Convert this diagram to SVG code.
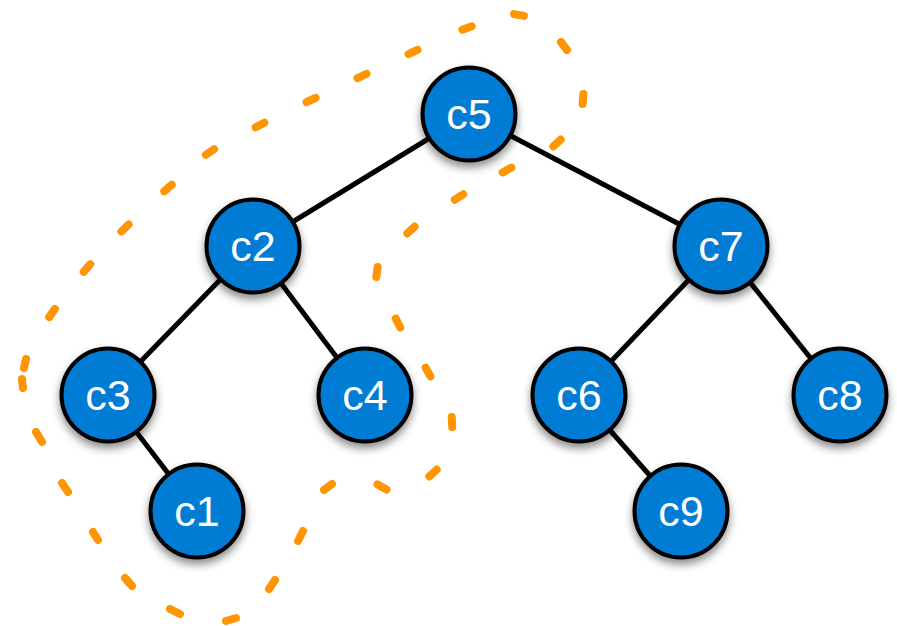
<svg xmlns="http://www.w3.org/2000/svg" width="897" height="626" viewBox="0 0 897 626">
  <defs>
    <filter id="shadow" x="-30%" y="-30%" width="160%" height="170%">
      <feDropShadow dx="0" dy="5" stdDeviation="4" flood-color="#000" flood-opacity="0.45"/>
    </filter>
    <style>
      .edge { stroke: #000; stroke-width: 5; fill: none; }
      .node circle { fill: #027BD5; stroke: #000; stroke-width: 4; filter: url(#shadow); }
      .node text { fill: #fff; font-family: "Liberation Sans", Arial, sans-serif; font-size: 43px; text-anchor: middle; }
      .hull { stroke: #FF9500; stroke-width: 8; stroke-linecap: round; fill: none; }
    </style>
  </defs>
  <rect width="897" height="626" fill="#fff"/>

  <!-- tree edges, centre to centre -->
  <g id="connectors">
    <line class="edge" x1="469" y1="114" x2="253" y2="246"/>
    <line class="edge" x1="469" y1="114" x2="721" y2="246"/>
    <line class="edge" x1="253" y1="246" x2="108" y2="395"/>
    <line class="edge" x1="253" y1="246" x2="365" y2="395"/>
    <line class="edge" x1="108" y1="395" x2="197" y2="511"/>
    <line class="edge" x1="721" y1="246" x2="579" y2="395"/>
    <line class="edge" x1="721" y1="246" x2="840" y2="395"/>
    <line class="edge" x1="579" y1="395" x2="681" y2="511"/>
  </g>

  <!-- dashed outline around the c5 / c2 subtree -->
  <g id="hull">
    <path class="hull" d="M26,359 L24,368 M49.1,317.1 L54.9,308.9 M83.7,271.8 L90.3,264.2 M121.4,231.5 L128.6,224.5 M164.3,191.3 L171.7,184.7 M205.9,154.8 L214.1,149.2 M255.6,127.3 L264.4,122.7 M306.5,102.2 L315.5,97.8 M357.5,78.1 L366.5,73.9 M408.5,54.1 L417.5,49.9 M462.3,29.7 L471.7,26.3 M514.1,14.1 L523.9,15.9 M561,42 L567,50 M583.4,94 L582.6,104 M560.7,139.6 L553.3,146.4 M511.4,167.6 L502.6,172.4 M463.2,194.3 L454.8,199.7 M414.7,226.6 L407.3,233.4 M377.7,267 L376.3,277 M395.7,318.5 L400.3,327.5 M425.6,367.6 L430.4,376.4 M451.8,417 L452.2,427 M436.7,469.6 L429.3,476.4 M386.5,489.5 L377.5,484.5 M332,484 L324,490 M303,531 L298,541 M275,580 L269,589 M236,618 L226,621 M180,614 L170,609 M132,586 L125,578 M98,540 L93,532 M68,492 L62,483 M42,442 L36,432 M23,388 L22,379"/>
  </g>

  <g id="node-c5" class="node"><circle cx="469" cy="114" r="46.5"/><text x="469" y="129">c5</text></g>
  <g id="node-c2" class="node"><circle cx="253" cy="246" r="46.5"/><text x="253" y="261">c2</text></g>
  <g id="node-c7" class="node"><circle cx="721" cy="246" r="46.5"/><text x="721" y="261">c7</text></g>
  <g id="node-c3" class="node"><circle cx="108" cy="395" r="46.5"/><text x="108" y="410">c3</text></g>
  <g id="node-c4" class="node"><circle cx="365" cy="395" r="46.5"/><text x="365" y="410">c4</text></g>
  <g id="node-c6" class="node"><circle cx="579" cy="395" r="46.5"/><text x="579" y="410">c6</text></g>
  <g id="node-c8" class="node"><circle cx="840" cy="395" r="46.5"/><text x="840" y="410">c8</text></g>
  <g id="node-c1" class="node"><circle cx="197" cy="511" r="46.5"/><text x="197" y="526">c1</text></g>
  <g id="node-c9" class="node"><circle cx="681" cy="511" r="46.5"/><text x="681" y="526">c9</text></g>
</svg>
